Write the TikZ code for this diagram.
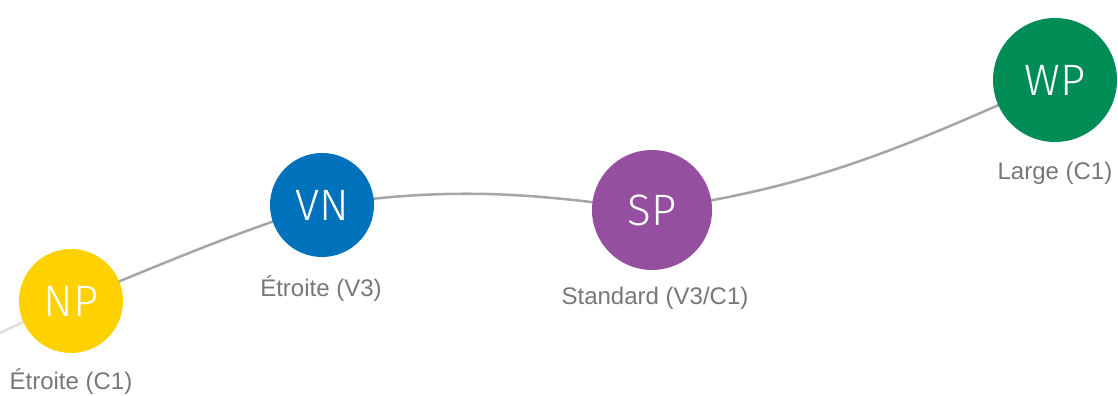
\documentclass[tikz,border=0pt]{standalone}
\usepackage{fontspec}
\setmainfont{Liberation Sans}
\newfontfamily\lightfont{Fira Sans Light}
\usetikzlibrary{backgrounds}
\definecolor{npyellow}{HTML}{FFD100}
\definecolor{vnblue}{HTML}{0072BC}
\definecolor{sppurple}{HTML}{944F9E}
\definecolor{wpgreen}{HTML}{008C55}
\definecolor{labelgray}{HTML}{76767B}
\definecolor{trackgray}{HTML}{A6A6A8}
\definecolor{fadegray}{HTML}{DEDEDF}

\begin{document}
\begin{tikzpicture}[x=0.75pt,y=0.75pt,
  badge/.style={circle,inner sep=0pt,text=white,font=\lightfont\fontsize{33}{33}\selectfont},
  caption/.style={text=labelgray,font=\fontsize{18}{22}\selectfont},
  track/.style={draw=trackgray,line width=1.9pt}]
  \useasboundingbox (0,0) rectangle (1118,396);
  \node[badge,fill=npyellow,minimum size=78pt] (np) at (71,95) {NP};
  \node[badge,fill=vnblue,minimum size=78pt] (vn) at (322,191) {VN};
  \node[badge,fill=sppurple,minimum size=90pt] (sp) at (652,186) {SP};
  \node[badge,fill=wpgreen,minimum size=93pt] (wp) at (1055,316) {WP};
  \node[caption] (np-label) at (71,14) {Étroite (C1)};
  \node[caption] (vn-label) at (321,107) {Étroite (V3)};
  \node[caption] (sp-label) at (655,98) {Standard (V3/C1)};
  \node[caption] (wp-label) at (1055,223) {Large (C1)};
  \coordinate (start) at (0,63);
  \begin{scope}[on background layer]
    \draw[track,draw=fadegray] (start) to[out=26,in=205] (np.center);
    \draw[track] (np.center) to[out=22,in=198] (vn.center);
    \draw[track] (vn.center) to[out=8,in=172] (sp.center);
    \draw[track] (sp.center) to[out=8,in=204] (wp.center);
  \end{scope}
\end{tikzpicture}
\end{document}
